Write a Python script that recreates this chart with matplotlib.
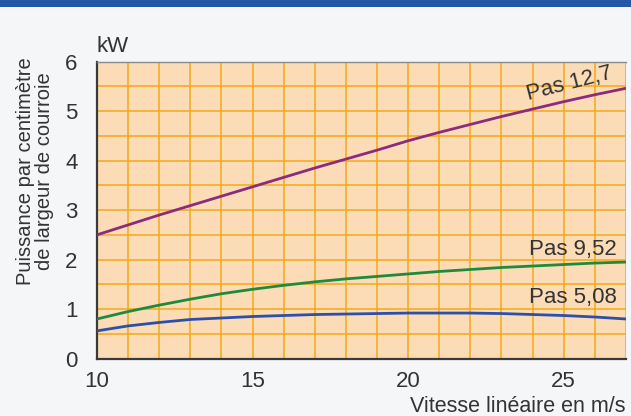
import matplotlib
matplotlib.use('Agg')
import matplotlib.pyplot as plt
from matplotlib.patches import Rectangle
from matplotlib.ticker import MultipleLocator
import numpy as np

plt.rcParams['font.family'] = ['Liberation Sans', 'DejaVu Sans']

# vitesse (m/s) et puissance (kW par cm de largeur)
vitesse = [10, 11, 12, 13, 14, 15, 16, 17, 18, 19, 20, 21, 22, 23, 24, 25, 26, 27]
pas_127 = [2.50, 2.70, 2.90, 3.09, 3.28, 3.47, 3.66, 3.85, 4.03, 4.21, 4.40, 4.57, 4.73, 4.89, 5.04, 5.19, 5.33, 5.46]
pas_952 = [0.80, 0.95, 1.08, 1.20, 1.31, 1.40, 1.48, 1.55, 1.61, 1.66, 1.71, 1.76, 1.80, 1.84, 1.87, 1.90, 1.93, 1.95]
pas_508 = [0.56, 0.66, 0.73, 0.79, 0.82, 0.85, 0.87, 0.89, 0.90, 0.91, 0.92, 0.92, 0.92, 0.91, 0.89, 0.87, 0.84, 0.80]

labels = ['Pas 12,7', 'Pas 9,52', 'Pas 5,08']
x_ticks = [10, 15, 20, 25]
y_ticks = [0, 1, 2, 3, 4, 5, 6]

fig = plt.figure(figsize=(6.31, 4.16), dpi=100)
fig.patch.set_facecolor('#f4f6f8')
# bandeau bleu en haut
fig.patches.append(Rectangle((0, 0.983), 1, 0.02, transform=fig.transFigure,
                             facecolor='#2656a6', edgecolor='none'))

ax = fig.add_axes([0.1537, 0.138, 0.8383, 0.714])
ax.set_facecolor('#fcdcb6')

ax.plot(vitesse, pas_127, color='#8c2b7c', lw=2.0, zorder=3)
ax.plot(vitesse, pas_952, color='#1f8a3e', lw=2.0, zorder=3)
ax.plot(vitesse, pas_508, color='#2c50a8', lw=2.0, zorder=3)

ax.set_xlim(10, 27)
ax.set_ylim(0, 6)
ax.set_xticks(x_ticks)
ax.set_yticks(y_ticks)
ax.xaxis.set_minor_locator(MultipleLocator(1))
ax.yaxis.set_minor_locator(MultipleLocator(0.5))
ax.grid(which='both', color='#f4a816', lw=1.1, zorder=1)
ax.set_axisbelow(True)
ax.tick_params(which='both', length=0, labelsize=16, colors='#333333')
ax.tick_params(axis='x', pad=9)
ax.tick_params(axis='y', pad=14)

for s in ['left', 'bottom']:
    ax.spines[s].set_color('#3a3a3a')
    ax.spines[s].set_linewidth(1.6)
ax.spines['top'].set_color('#8a8a8a')
ax.spines['top'].set_linewidth(1.0)
ax.spines['right'].set_visible(False)

ax.text(25.2, 5.55, labels[0], fontsize=16, color='#333333', rotation=14.5,
        ha='center', va='center', zorder=4)
ax.text(25.3, 2.2, labels[1], fontsize=16, color='#333333',
        ha='center', va='center', zorder=4)
ax.text(25.3, 1.23, labels[2], fontsize=16, color='#333333',
        ha='center', va='center', zorder=4)

fig.text(97 / 631, 1 - 52 / 416, 'kW', fontsize=16, color='#333333',
         ha='left', va='baseline')
fig.text(35 / 631, 1 - 171 / 416, 'Puissance par centimètre\nde largeur de courroie',
         fontsize=14.5, color='#333333', rotation=90, ha='center', va='center',
         multialignment='center', linespacing=1.05)
fig.text(625 / 631, 1 - 412 / 416, 'Vitesse linéaire en m/s', fontsize=15.5,
         color='#333333', ha='right', va='baseline')

fig.savefig('out.png', dpi=100, facecolor=fig.get_facecolor())
